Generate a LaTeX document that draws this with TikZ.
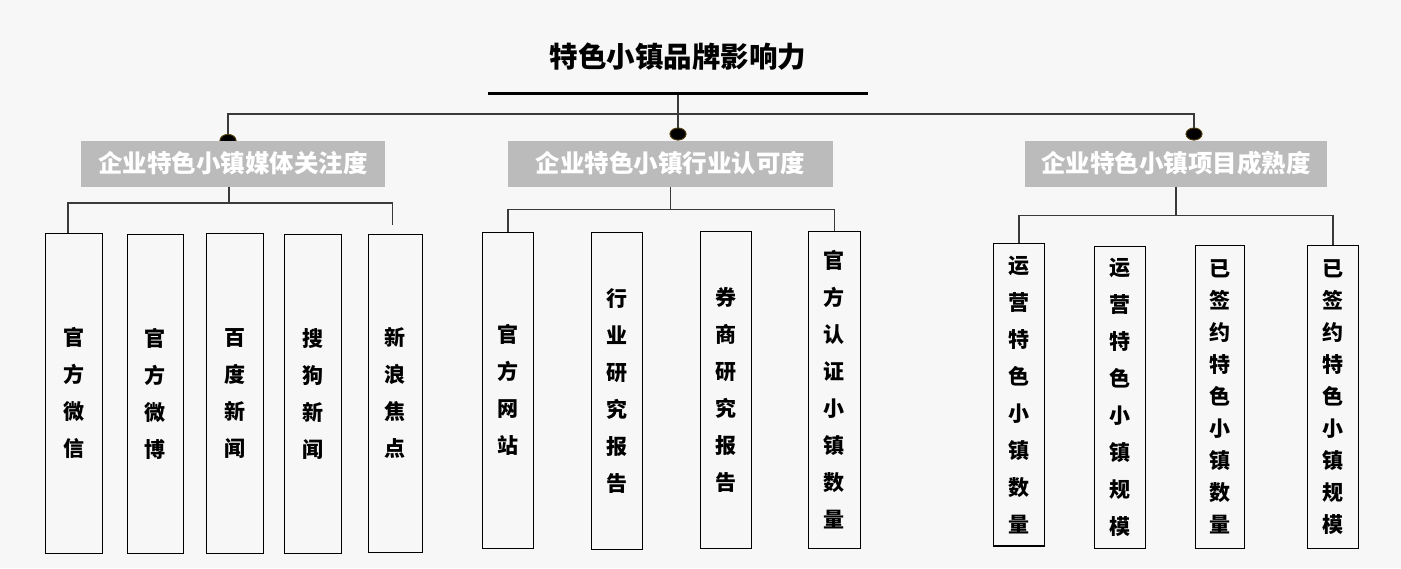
\documentclass[tikz,border=0pt]{standalone}
\usepackage{fontspec}
\setmainfont{Noto Sans CJK SC}
\usetikzlibrary{shapes.geometric}
\definecolor{bgc}{HTML}{F7F7F7}
\definecolor{boxgray}{HTML}{BBBBBB}
\definecolor{linec}{HTML}{3A3A3A}
\definecolor{dotrim}{HTML}{5A4614}
\tikzset{
  titlenode/.style={inner sep=0pt, font=\bfseries\fontsize{28.5}{30}\selectfont},
  gbox/.style={fill=boxgray, text=white, inner sep=0pt, minimum height=46pt,
    font=\bfseries\fontsize{24.5}{26}\selectfont},
  cbox/.style={draw=black, line width=1.3pt, fill=bgc, align=center, inner sep=0pt,
    font=\bfseries\fontsize{21}{37}\selectfont},
  cboxn/.style={cbox, font=\bfseries\fontsize{21}{32}\selectfont},
  dotn/.style={ellipse, fill=black, draw=dotrim, line width=0.8pt, inner sep=0pt,
    minimum width=16pt, minimum height=12pt},
  conn/.style={draw=linec, line width=1.4pt},
  thickline/.style={draw=black, line width=3pt}
}
\begin{document}
\begin{tikzpicture}[x=1pt,y=-1pt]
\useasboundingbox (0,0) rectangle (1401,568);
\fill[bgc] (0,0) rectangle (1401,568);

% title
\node[titlenode] (title) at (678,57) {特色小镇品牌影响力};
\coordinate (ulL) at (488,93);
\coordinate (ulR) at (868,93);
\coordinate (j0) at (678,93);
\coordinate (hub) at (678,114);

% dots
\node[dotn] (dA) at (228,140.5) {};
\node[dotn] (dB) at (678,134) {};
\node[dotn] (dC) at (1194,134) {};

% top connectors (drawn before dots overlay)
\begin{scope}[on background layer/.style={}]
\end{scope}
\draw[conn] (j0) -- (dB.center);
\draw[conn] (dA.center) |- (hub) -| (dC.center);
\draw[thickline] (ulL) -- (ulR);
\node[dotn] at (dA.center) {};
\node[dotn] at (dB.center) {};
\node[dotn] at (dC.center) {};

% category boxes
\node[gbox, minimum width=304pt] (gA) at (233,163.5) {企业特色小镇媒体关注度};
\node[gbox, minimum width=325pt] (gB) at (670.5,163.5) {企业特色小镇行业认可度};
\node[gbox, minimum width=302pt] (gC) at (1176,163.5) {企业特色小镇项目成熟度};

% children A
\node[cbox, minimum width=57pt, minimum height=320pt] (A1) at (73.8,393.3) {官\\方\\微\\信};
\node[cbox, minimum width=56pt, minimum height=319pt] (A2) at (155.3,393.8) {官\\方\\微\\博};
\node[cbox, minimum width=57pt, minimum height=320pt] (A3) at (234.8,393.3) {百\\度\\新\\闻};
\node[cbox, minimum width=57pt, minimum height=319pt] (A4) at (312.8,393.8) {搜\\狗\\新\\闻};
\node[cbox, minimum width=54pt, minimum height=318pt] (A5) at (395.3,393.3) {新\\浪\\焦\\点};

% children B
\node[cbox, minimum width=51pt, minimum height=316pt] (B1) at (507.8,390.3) {官\\方\\网\\站};
\node[cbox, minimum width=51.4pt, minimum height=317pt] (B2) at (617,390.8) {行\\业\\研\\究\\报\\告};
\node[cbox, minimum width=51pt, minimum height=317pt] (B3) at (725.8,389.8) {券\\商\\研\\究\\报\\告};
\node[cbox, minimum width=52pt, minimum height=317pt] (B4) at (834.3,389.8) {官\\方\\认\\证\\小\\镇\\数\\量};

% children C
\node[cbox, minimum width=51pt, minimum height=302.7pt] (C1) at (1018.8,394.7) {运\\营\\特\\色\\小\\镇\\数\\量};
\node[cbox, minimum width=51pt, minimum height=301.6pt] (C2) at (1119.8,397.5) {运\\营\\特\\色\\小\\镇\\规\\模};
\node[cboxn, minimum width=49pt, minimum height=303pt] (C3) at (1219.8,396.8) {已\\签\\约\\特\\色\\小\\镇\\数\\量};
\node[cboxn, minimum width=51pt, minimum height=303pt] (C4) at (1332.8,396.8) {已\\签\\约\\特\\色\\小\\镇\\规\\模};

% connectors A
\coordinate (gAs) at (229,186.5);
\coordinate (jA) at (229,202.8);
\coordinate (A1t) at (68,233.3);
\coordinate (A5e) at (392.5,225);
\draw[conn] (gAs) -- (jA);
\draw[conn] (A1t) |- (jA) -| (A5e);

% connectors B
\coordinate (jB) at (670.5,209.6);
\draw[conn] (gB.south) -- (jB);
\draw[conn] (B1.north) |- (jB) -| (B4.north);

% connectors C
\coordinate (jC) at (1176,215.5);
\draw[conn] (gC.south) -- (jC);
\draw[conn] (C1.north) |- (jC) -| (C4.north);
\end{tikzpicture}
\end{document}
